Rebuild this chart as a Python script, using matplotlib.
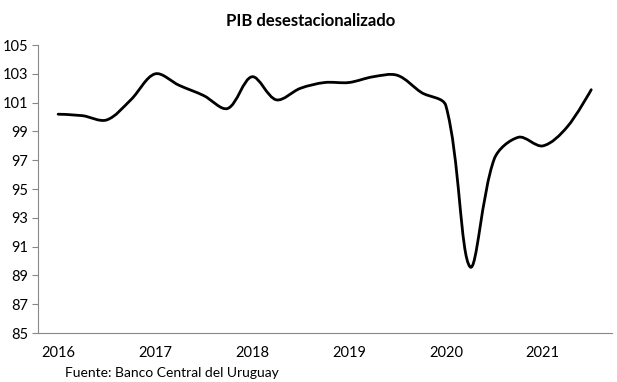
import matplotlib
matplotlib.use("Agg")
from matplotlib import pyplot as plt
from matplotlib.path import Path
from matplotlib.patches import PathPatch
import numpy as np

plt.rcParams['font.family'] = ['Lato', 'DejaVu Sans']

# quarterly seasonally adjusted GDP index, 2016Q1 .. 2021Q3
quarters = list(range(23))
pib = [100.2, 100.1, 99.8, 101.2,
       103.0, 102.2, 101.5, 100.6,
       102.8, 101.2, 102.0, 102.4,
       102.4, 102.8, 102.9, 101.7,
       100.8, 89.6, 97.1, 98.6,
       98.0, 99.3, 101.9]
year_labels = ['2016', '2017', '2018', '2019', '2020', '2021']
year_pos = [0, 4, 8, 12, 16, 20]

fig = plt.figure(figsize=(6.17, 3.82), dpi=100)
ax = fig.add_axes([0.0616, 0.128, 0.930, 0.754])
ax.set_xlim(-0.83, 22.85)
ax.set_ylim(85, 105)

# smoothed line like a spreadsheet chart: bezier through the points,
# handle length weighted by the on-screen segment lengths
pts = np.column_stack([quarters, pib])
scr = ax.transData.transform(pts)
n = len(pts)
seg = np.hypot(*np.diff(scr, axis=0).T)

def handle(i, forward):
    a, b = max(i - 1, 0), min(i + 1, n - 1)
    if i == 0 or i == n - 1:
        return pts[i]
    d_in, d_out = seg[i - 1], seg[i]
    w = (d_out if forward else d_in) / (d_in + d_out)
    sign = 1 if forward else -1
    return pts[i] + sign * (pts[b] - pts[a]) * w / 3 * 1.0

verts = [tuple(pts[0])]
codes = [Path.MOVETO]
for i in range(n - 1):
    verts += [tuple(handle(i, True)), tuple(handle(i + 1, False)), tuple(pts[i + 1])]
    codes += [Path.CURVE4] * 3
ax.add_patch(PathPatch(Path(verts, codes), fill=False, lw=2.0, color='black',
                       capstyle='round', joinstyle='round'))

ax.set_yticks(range(85, 106, 2))
ax.set_xticks(year_pos)
ax.set_xticklabels(year_labels)
ax.tick_params(axis='y', length=4, color='#888888', labelsize=10.5, pad=3)
ax.tick_params(axis='x', length=0, labelsize=10.5, pad=9)
for s in ['top', 'right']:
    ax.spines[s].set_visible(False)
for s in ['left', 'bottom']:
    ax.spines[s].set_color('#888888')
    ax.spines[s].set_linewidth(0.8)

fig.text(0.503, 0.945, 'PIB desestacionalizado', ha='center', va='center',
         fontsize=12, fontweight='bold')
fig.text(0.106, 0.008, 'Fuente: Banco Central del Uruguay', ha='left', va='bottom',
         fontsize=10)

fig.savefig('out.png', dpi=100)
